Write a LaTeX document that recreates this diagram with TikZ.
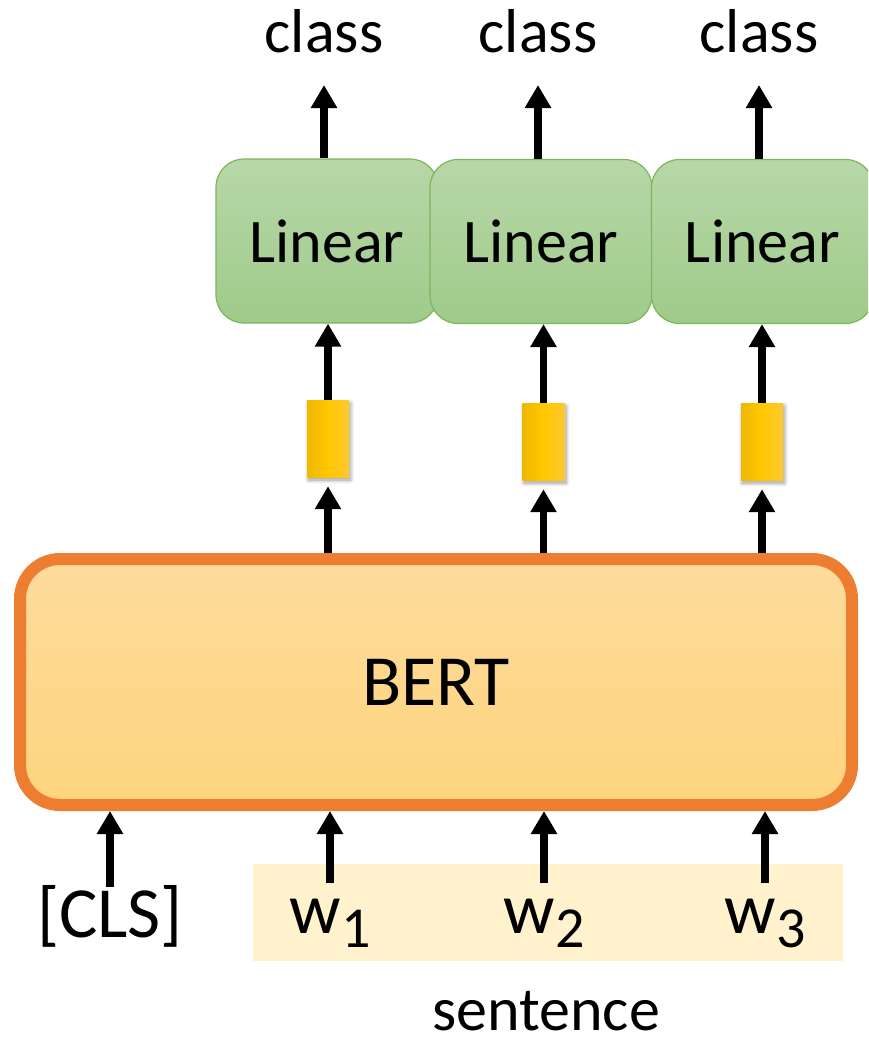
\documentclass[tikz,border=0pt]{standalone}
\usepackage{fontspec}
\setmainfont{Carlito}
\usetikzlibrary{arrows.meta,shadows.blur}

\definecolor{linT}{HTML}{B7D7A8}
\definecolor{linB}{HTML}{9FCB8A}
\definecolor{linG}{HTML}{7DB55B}
\definecolor{bertT}{HTML}{FDDB9B}
\definecolor{bertB}{HTML}{FED47E}
\definecolor{bertO}{HTML}{ED7D31}
\definecolor{barL}{HTML}{EDB800}
\definecolor{barM}{HTML}{FFC800}
\definecolor{barR}{HTML}{FFC830}
\definecolor{sentBG}{HTML}{FFF2CC}

\newcommand{\wordsub}[1]{w\raisebox{-14pt}{\fontsize{58}{60}\selectfont #1}}

\begin{document}
\begin{tikzpicture}[x=1pt,y=-1pt,
  arr/.style={line width=7.5pt,-{Triangle[width=25pt,length=23pt]}},
  linbox/.style={draw=linG,line width=1.2pt,rounded corners=28pt,
    minimum width=222pt,minimum height=164pt,inner sep=0pt,
    top color=linT,bottom color=linB,font=\fontsize{62}{70}\selectfont},
  vecbar/.style={minimum width=42pt,minimum height=77pt,inner sep=0pt,
    left color=barL,right color=barR,middle color=barM,
    blur shadow={shadow xshift=1.5pt,shadow yshift=-3pt,
      shadow blur steps=8,shadow opacity=40,shadow blur radius=4pt}},
  lbl/.style={font=\fontsize{62}{70}\selectfont,inner sep=0pt,anchor=base},
  biglbl/.style={font=\fontsize{72}{80}\selectfont,inner sep=0pt,anchor=base},
]
\useasboundingbox (0,0) rectangle (868,1039);
\clip (0,0) rectangle (868,1039);

% encoder
\node[draw=bertO,line width=12pt,rounded corners=40pt,
  top color=bertT,bottom color=bertB,
  minimum width=832pt,minimum height=246pt,inner sep=0pt,
  font=\fontsize{72}{80}\selectfont] (bert) at (436,682) {BERT};

% input tokens
\node[fill=sentBG,minimum width=590pt,minimum height=97pt,inner sep=0pt]
  (sent) at (548,912.5) {};
\node[biglbl] (cls) at (110,937) {[CLS]};
\node[biglbl] (w1) at (330,933) {\wordsub{1}};
\node[biglbl] (w2) at (544,933) {\wordsub{2}};
\node[biglbl] (w3) at (765,933) {\wordsub{3}};
\node[lbl] (sentlbl) at (546,1030) {sentence};

% token vectors
\node[vecbar] (v1) at (328,438.5) {};
\node[vecbar] (v2) at (543.5,441.5) {};
\node[vecbar] (v3) at (762,441.5) {};

% classifier heads
\node[linbox] (lin1) at (327,241) {Linear};
\node[linbox] (lin2) at (541,241.5) {Linear};
\node[linbox] (lin3) at (762.5,241.5) {Linear};

% outputs
\node[lbl] (c1) at (324,52) {class};
\node[lbl] (c2) at (538,52) {class};
\node[lbl] (c3) at (759,52) {class};

% inputs into the encoder
\foreach \t in {cls,w1,w2,w3}
  \draw[arr] ([yshift=50pt]\t.base) -- (\t |- bert.south);

% encoder to vectors, vectors to heads, heads to outputs
\foreach \i in {1,2,3}{
  \draw[arr,shorten >=9pt] (v\i.south |- bert.north) -- (v\i.south);
  \draw[arr] (v\i.north) -- (v\i.north |- lin\i.south);
  \draw[arr] (c\i |- lin\i.north) -- ([yshift=-33pt]c\i.base);
}
\end{tikzpicture}
\end{document}
